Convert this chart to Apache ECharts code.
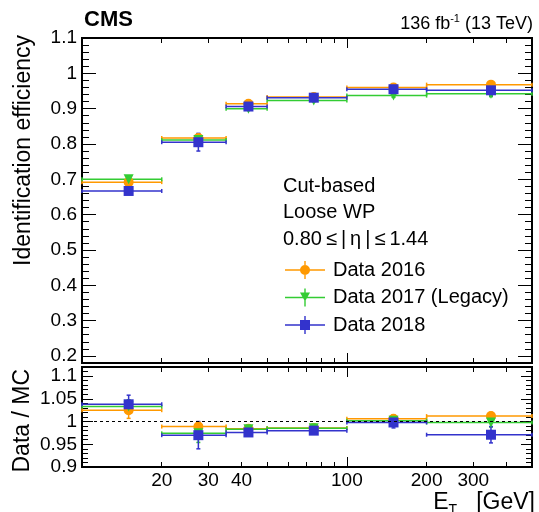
<!doctype html>
<html lang="en">
<head>
<meta charset="UTF-8">
<title>Identification efficiency</title>
<script src="https://cdn.jsdelivr.net/npm/echarts@6/dist/echarts.min.js"></script>
<style>
  html, body { margin: 0; padding: 0; background: #fff; }
  #main { width: 539px; height: 512px; }
</style>
</head>
<body>
<div id="main"></div>
<script>
// E_T bins in GeV
var binLow  = [10, 20, 35, 50, 100, 200];
var binHigh = [20, 35, 50, 100, 200, 500];
var binMid  = [15, 27.5, 42.5, 75, 150, 350];

// identification efficiency
var eff2016    = [0.692, 0.817, 0.914, 0.933, 0.960, 0.968];
var effErr2016 = [0.006, 0.012, 0.005, 0.004, 0.006, 0.008];
var eff2017    = [0.700, 0.811, 0.900, 0.923, 0.937, 0.942];
var effErr2017 = [0.006, 0.010, 0.004, 0.003, 0.005, 0.008];
var eff2018    = [0.667, 0.805, 0.906, 0.931, 0.955, 0.952];
var effErr2018 = [0.006, 0.025, 0.006, 0.004, 0.007, 0.015];

// data / MC
var sf2016    = [1.025, 0.989, 0.984, 0.986, 1.006, 1.012];
var sfErr2016 = [0.018, 0.010, 0.005, 0.004, 0.008, 0.008];
var sf2017    = [1.033, 0.974, 0.983, 0.985, 1.002, 0.998];
var sfErr2017 = [0.015, 0.020, 0.006, 0.005, 0.008, 0.010];
var sf2018    = [1.038, 0.970, 0.976, 0.980, 0.998, 0.971];
var sfErr2018 = [0.020, 0.030, 0.005, 0.005, 0.012, 0.018];

// ticks
var xLabelTicks = [20, 30, 40, 100, 200, 300];
var xMinorTicks = [20, 30, 40, 50, 60, 70, 80, 90, 200, 300, 400];
var xMajorTicks = [100];
var effTicks = [0.2, 0.3, 0.4, 0.5, 0.6, 0.7, 0.8, 0.9, 1, 1.1];
var sfTicks  = [0.9, 0.95, 1, 1.05, 1.1];

var FONT = 'Liberation Sans, Arial, sans-serif';
var ORANGE = '#ff9900', GREEN = '#33cc33', BLUE = '#3333cc';

function lg(v) { return Math.log10(v); }
function lgList(a) { return a.map(lg); }

var effMinor = [], sfMinor = [];
for (var k = 0; k <= 45; k++) effMinor.push(+(0.2 + k * 0.02).toFixed(2));
for (var k = 0; k <= 22; k++) sfMinor.push(+(0.9 + k * 0.01).toFixed(2));

function xAx(grid, pos, ticks, len, withLabels) {
    return {
        type: 'value', gridIndex: grid, position: pos,
        min: lg(10), max: lg(500),
        axisLine: { show: false, onZero: false },
        splitLine: { show: false },
        axisTick: { show: true, inside: true, length: len, customValues: lgList(ticks),
                    lineStyle: { color: '#000', width: 1 } },
        axisLabel: withLabels ? {
            show: true, customValues: lgList(xLabelTicks), margin: 4,
            color: '#000', fontSize: 19, fontFamily: FONT,
            formatter: function (v) { return String(Math.round(Math.pow(10, v))); }
        } : { show: false }
    };
}

function yAx(grid, pos, min, max, ticks, len, labels) {
    return {
        type: 'value', gridIndex: grid, position: pos, min: min, max: max,
        axisLine: { show: false, onZero: false },
        splitLine: { show: false },
        axisTick: { show: true, inside: true, length: len, customValues: ticks,
                    lineStyle: { color: '#000', width: 1 } },
        axisLabel: labels ? {
            show: true, customValues: labels, margin: 5,
            color: '#000', fontSize: 19, fontFamily: FONT,
            formatter: function (v) { return String(Math.round(v * 100) / 100); }
        } : { show: false }
    };
}

function renderBin(params, api) {
    var y = api.value(3), e = api.value(4);
    var a = api.coord([api.value(0), y]);
    var b = api.coord([api.value(1), y]);
    var c = api.coord([api.value(2), y + e]);
    var d = api.coord([api.value(2), y - e]);
    var st = { stroke: api.visual('color'), lineWidth: 1.5 };
    return {
        type: 'group',
        children: [
            { type: 'line', shape: { x1: a[0], y1: a[1], x2: b[0], y2: b[1] }, style: st },
            { type: 'line', shape: { x1: a[0], y1: a[1] - 2, x2: a[0], y2: a[1] + 2 }, style: st },
            { type: 'line', shape: { x1: b[0], y1: b[1] - 2, x2: b[0], y2: b[1] + 2 }, style: st },
            { type: 'line', shape: { x1: c[0], y1: c[1], x2: d[0], y2: d[1] }, style: st },
            { type: 'line', shape: { x1: c[0] - 2, y1: c[1], x2: c[0] + 2, y2: c[1] }, style: st },
            { type: 'line', shape: { x1: d[0] - 2, y1: d[1], x2: d[0] + 2, y2: d[1] }, style: st }
        ]
    };
}

function makeSeries(name, color, symbol, rot, vals, errs, xi, yi) {
    var bins = vals.map(function (v, i) {
        return [lg(binLow[i]), lg(binHigh[i]), lg(binMid[i]), v, errs[i]];
    });
    var pts = vals.map(function (v, i) { return [lg(binMid[i]), v]; });
    return [
        { name: name, type: 'custom', xAxisIndex: xi, yAxisIndex: yi,
          renderItem: renderBin, itemStyle: { color: color },
          encode: { x: [0, 1, 2], y: 3 }, data: bins, silent: true },
        { name: name, type: 'scatter', xAxisIndex: xi, yAxisIndex: yi,
          symbol: symbol, symbolRotate: rot, symbolSize: 10,
          itemStyle: { color: color, opacity: 1 }, data: pts, silent: true }
    ];
}

var series = [].concat(
    makeSeries('Data 2016', ORANGE, 'circle', 0, eff2016, effErr2016, 0, 0),
    makeSeries('Data 2017 (Legacy)', GREEN, 'triangle', 180, eff2017, effErr2017, 0, 0),
    makeSeries('Data 2018', BLUE, 'rect', 0, eff2018, effErr2018, 0, 0),
    makeSeries('Data 2016', ORANGE, 'circle', 0, sf2016, sfErr2016, 4, 4),
    makeSeries('Data 2017 (Legacy)', GREEN, 'triangle', 180, sf2017, sfErr2017, 4, 4),
    makeSeries('Data 2018', BLUE, 'rect', 0, sf2018, sfErr2018, 4, 4)
);

// reference line at data/MC = 1
series[6].markLine = {
    silent: true, symbol: 'none', label: { show: false },
    lineStyle: { color: '#000', width: 1, type: [3, 3] },
    data: [{ yAxis: 1 }]
};

var barIcon = 'M0,8.3H40V9.7H0Z M19.3,0H20.7V18H19.3Z ';
var icons = {
    'Data 2016': 'path://' + barIcon + 'M25,9A5,5 0 1,1 15,9A5,5 0 1,1 25,9Z',
    'Data 2017 (Legacy)': 'path://' + barIcon + 'M15,4H25L20,13Z',
    'Data 2018': 'path://' + barIcon + 'M15,4H25V14H15Z'
};

var myChart = echarts.init(document.getElementById('main'), null, { renderer: 'canvas' });

var option = {
    animation: false,
    backgroundColor: '#fff',
    grid: [
        { left: 82, top: 38, width: 450, height: 325, show: true, borderColor: '#000', borderWidth: 2, backgroundColor: 'transparent' },
        { left: 82, top: 367, width: 450, height: 100, show: true, borderColor: '#000', borderWidth: 2, backgroundColor: 'transparent' }
    ],
    xAxis: [
        xAx(0, 'bottom', xMinorTicks, 5, false),
        xAx(0, 'bottom', xMajorTicks, 10, false),
        xAx(0, 'top', xMinorTicks, 5, false),
        xAx(0, 'top', xMajorTicks, 10, false),
        xAx(1, 'bottom', xMinorTicks, 5, true),
        xAx(1, 'bottom', xMajorTicks, 10, false),
        xAx(1, 'top', xMinorTicks, 5, false),
        xAx(1, 'top', xMajorTicks, 10, false)
    ],
    yAxis: [
        yAx(0, 'left', 0.18, 1.1, effTicks, 14, effTicks),
        yAx(0, 'left', 0.18, 1.1, effMinor, 7, null),
        yAx(0, 'right', 0.18, 1.1, effTicks, 14, null),
        yAx(0, 'right', 0.18, 1.1, effMinor, 7, null),
        yAx(1, 'left', 0.9, 1.12, sfTicks, 11, sfTicks),
        yAx(1, 'left', 0.9, 1.12, sfMinor, 6, null),
        yAx(1, 'right', 0.9, 1.12, sfTicks, 11, null),
        yAx(1, 'right', 0.9, 1.12, sfMinor, 6, null)
    ],
    legend: {
        orient: 'vertical', left: 285, top: 260, padding: 0,
        itemWidth: 40, itemHeight: 18, itemGap: 7.5,
        textStyle: { color: '#000', fontSize: 20, fontFamily: FONT, lineHeight: 20, padding: [0, 0, 0, 3] },
        data: [
            { name: 'Data 2016', icon: icons['Data 2016'] },
            { name: 'Data 2017 (Legacy)', icon: icons['Data 2017 (Legacy)'] },
            { name: 'Data 2018', icon: icons['Data 2018'] }
        ],
        selectedMode: false
    },
    graphic: [
        { type: 'text', x: 84, y: 31, style: { text: 'CMS', fontSize: 22, fontWeight: 'bold', fontFamily: FONT, fill: '#000', align: 'left', verticalAlign: 'bottom' } },
        { type: 'text', x: 533, y: 33, style: {
            text: '{a|136 fb}{s|-1}{a| (13 TeV)}', align: 'right', verticalAlign: 'bottom',
            rich: {
                a: { fontSize: 18, fontFamily: FONT, fill: '#000', lineHeight: 20, verticalAlign: 'bottom' },
                s: { fontSize: 11, fontFamily: FONT, fill: '#000', lineHeight: 20, verticalAlign: 'top' }
            } } },
        { type: 'text', x: 283, y: 186, style: { text: 'Cut-based', fontSize: 20, fontFamily: FONT, fill: '#000', verticalAlign: 'middle' } },
        { type: 'text', x: 283, y: 212, style: { text: 'Loose WP', fontSize: 20, fontFamily: FONT, fill: '#000', verticalAlign: 'middle' } },
        { type: 'text', x: 283, y: 239, style: { text: '0.80\u2009\u2264\u2009|\u2009\u03b7\u2009|\u2009\u2264\u20091.44', fontSize: 20, fontFamily: FONT, fill: '#000', verticalAlign: 'middle' } },
        { type: 'text', x: 24, y: 35, rotation: Math.PI / 2, style: { text: 'Identification efficiency', fontSize: 23, fontFamily: FONT, fill: '#000', align: 'right', verticalAlign: 'middle' } },
        { type: 'text', x: 23, y: 369, rotation: Math.PI / 2, style: { text: 'Data / MC', fontSize: 23, fontFamily: FONT, fill: '#000', align: 'right', verticalAlign: 'middle' } },
        { type: 'text', x: 535, y: 517, style: {
            text: '{a|E}{s|T}{a|   [GeV]}', align: 'right', verticalAlign: 'bottom',
            rich: {
                a: { fontSize: 23, fontFamily: FONT, fill: '#000', lineHeight: 26, verticalAlign: 'top' },
                s: { fontSize: 14, fontFamily: FONT, fill: '#000', lineHeight: 26, verticalAlign: 'bottom' }
            } } }
    ],
    series: series
};

myChart.setOption(option);
</script>
</body>
</html>
